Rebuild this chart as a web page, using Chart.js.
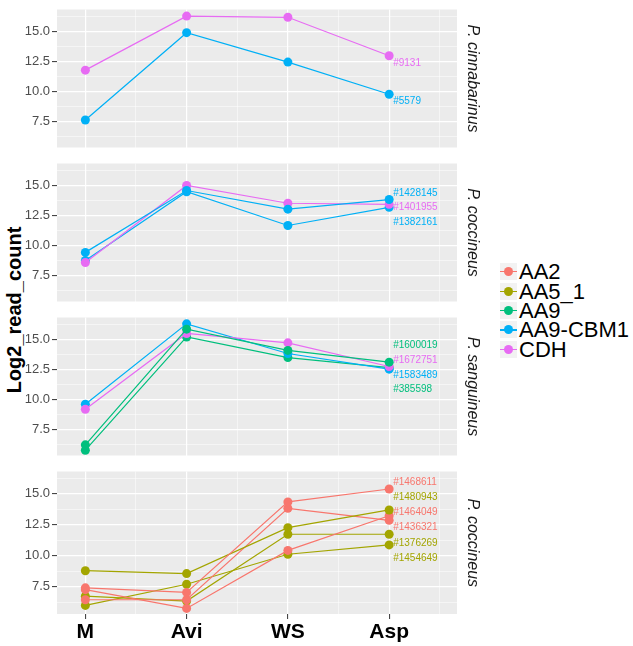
<!DOCTYPE html>
<html>
<head>
<meta charset="utf-8">
<script src="https://cdn.jsdelivr.net/npm/chart.js@4.4.1/dist/chart.umd.min.js"></script>
<style>
  body { margin: 0; width: 633px; height: 646px; background: #fff; position: relative; overflow: hidden;
         font-family: Arial, "Liberation Sans", sans-serif; }
  .panel { position: absolute; left: 0; }
  #ytitle { position: absolute; left: 14px; top: 310px; transform: translate(-50%, -50%) rotate(-90deg);
            font-weight: bold; font-size: 20px; color: #000; white-space: nowrap; }
  #legend { position: absolute; left: 500px; top: 262px; }
  .row { height: 19.4px; display: flex; align-items: center; position: relative; }
  .key { width: 17px; height: 17px; background: #F2F2F2; position: relative; margin-right: 2px; }
  .key .ln { position: absolute; left: 0; right: 0; top: 8px; height: 1.2px; }
  .key .dot { position: absolute; left: 4px; top: 4px; width: 9px; height: 9px; border-radius: 50%; }
  .lbl { font-size: 22px; color: #000; line-height: 19px; }
</style>
</head>
<body>
<div id="ytitle">Log2_read_count</div>
<div class="panel" style="top:5px"><canvas id="p0" width="490" height="147"></canvas></div>
<div class="panel" style="top:159px"><canvas id="p1" width="490" height="147"></canvas></div>
<div class="panel" style="top:313px"><canvas id="p2" width="490" height="147"></canvas></div>
<div class="panel" style="top:467px"><canvas id="p3" width="490" height="179"></canvas></div>
<div id="legend"></div>
<script>
// Categories, ticks and legend groups
const categories = ['M', 'Avi', 'WS', 'Asp'];
const xTickValues = [0, 0.5, 1, 1.5, 2, 2.5, 3, 3.5];
const yTickValues = [6.25, 7.5, 8.75, 10, 11.25, 12.5, 13.75, 15, 16.25];
const groups = ['AA2', 'AA5_1', 'AA9', 'AA9-CBM1', 'CDH'];
const groupColors = ['#F8766D', '#A3A500', '#00BF7D', '#00B0F6', '#E76BF3'];
const strips = ['P. cinnabarinus', 'P. coccineus', 'P. sanguineus', 'P. coccineus'];

// Panel 1: P. cinnabarinus
const p1Ids = ['#9131', '#5579'];
const p1Groups = ['CDH', 'AA9-CBM1'];
const p1LabelY = [12.29, 9.12];
const cin9131 = [11.75, 16.25, 16.15, 12.95];
const cin5579 = [7.6, 14.87, 12.42, 9.74];

// Panel 2: P. coccineus
const p2Ids = ['#1428145', '#1401955', '#1382161'];
const p2Groups = ['AA9-CBM1', 'CDH', 'AA9-CBM1'];
const p2LabelY = [14.34, 13.17, 11.95];
const coc1428145 = [9.4, 14.55, 13.0, 13.8];
const coc1401955 = [8.56, 14.97, 13.49, 13.4];
const coc1382161 = [8.72, 14.45, 11.64, 13.15];

// Panel 3: P. sanguineus
const p3Ids = ['#1600019', '#1672751', '#1583489', '#385598'];
const p3Groups = ['AA9', 'CDH', 'AA9-CBM1', 'AA9'];
const p3LabelY = [14.45, 13.25, 12.03, 10.8];
const san1600019 = [6.2, 15.83, 14.06, 13.08];
const san1672751 = [9.16, 15.47, 14.69, 12.72];
const san1583489 = [9.58, 16.27, 13.8, 12.5];
const san385598 = [5.75, 15.18, 13.46, 12.62];

// Panel 4: P. coccineus
const p4Ids = ['#1468611', '#1480943', '#1464049', '#1436321', '#1376269', '#1454649'];
const p4Groups = ['AA2', 'AA5_1', 'AA2', 'AA2', 'AA5_1', 'AA5_1'];
const p4LabelY = [15.96, 14.69, 13.49, 12.27, 11.04, 9.79];
const coc1468611 = [7.42, 7.05, 14.35, 15.39];
const coc1480943 = [8.8, 8.57, 12.27, 13.7];
const coc1464049 = [7.27, 5.76, 10.44, 13.23];
const coc1436321 = [6.46, 6.46, 13.83, 12.86];
const coc1376269 = [6.75, 6.35, 11.74, 11.74];
const coc1454649 = [6.0, 7.71, 10.13, 10.88];

const panels = [
    { ids: p1Ids, groups: p1Groups, labelY: p1LabelY, values: [cin9131, cin5579] },
    { ids: p2Ids, groups: p2Groups, labelY: p2LabelY, values: [coc1428145, coc1401955, coc1382161] },
    { ids: p3Ids, groups: p3Groups, labelY: p3LabelY, values: [san1600019, san1672751, san1583489, san385598] },
    { ids: p4Ids, groups: p4Groups, labelY: p4LabelY,
      values: [coc1468611, coc1480943, coc1464049, coc1436321, coc1376269, coc1454649] }
];

const FONT = 'Arial, "Liberation Sans", sans-serif';
const colorOf = g => groupColors[groups.indexOf(g)];
const isMajorX = v => Number.isInteger(v);
const isMajorY = v => Math.abs(v / 2.5 - Math.round(v / 2.5)) < 1e-6;

// Grey panel, strip text and the id labels next to the Asp points
const facetPlugin = {
    id: 'facet',
    beforeDraw(chart) {
        const a = chart.chartArea, ctx = chart.ctx;
        ctx.save();
        ctx.fillStyle = '#EBEBEB';
        ctx.fillRect(a.left, a.top, a.right - a.left, a.bottom - a.top);
        ctx.restore();
    },
    afterDraw(chart) {
        const opts = chart.options.plugins.facet;
        const a = chart.chartArea, ctx = chart.ctx;
        const xs = chart.scales.x, ys = chart.scales.y;
        ctx.save();
        // strip label
        ctx.translate(a.right + 15, (a.top + a.bottom) / 2);
        ctx.rotate(Math.PI / 2);
        ctx.font = 'italic 16px ' + FONT;
        ctx.fillStyle = '#1A1A1A';
        ctx.textAlign = 'center';
        ctx.textBaseline = 'middle';
        ctx.fillText(opts.strip, 0, 0);
        ctx.restore();

        ctx.save();
        ctx.font = '10px ' + FONT;
        ctx.textAlign = 'left';
        ctx.textBaseline = 'middle';
        opts.ids.forEach((id, i) => {
            ctx.fillStyle = colorOf(opts.groups[i]);
            ctx.fillText(id, xs.getPixelForValue(3) + 4, ys.getPixelForValue(opts.labelY[i]));
        });
        ctx.restore();
    }
};

function makePanel(idx) {
    const p = panels[idx];
    const last = idx === panels.length - 1;
    const datasets = p.values.map((vals, i) => ({
        label: p.ids[i],
        data: vals.map((v, j) => ({ x: j, y: v })),
        borderColor: colorOf(p.groups[i]),
        backgroundColor: colorOf(p.groups[i]),
        borderWidth: 1.2,
        pointRadius: 4.5,
        pointBorderWidth: 0,
        pointHoverRadius: 4.5,
        tension: 0
    }));

    return new Chart(document.getElementById('p' + idx), {
        type: 'line',
        data: { datasets },
        options: {
            responsive: false,
            animation: false,
            events: [],
            layout: { padding: { right: 33, top: 0, bottom: 0, left: 0 } },
            plugins: {
                legend: { display: false },
                tooltip: { enabled: false },
                facet: { strip: strips[idx], ids: p.ids, groups: p.groups, labelY: p.labelY }
            },
            scales: {
                x: {
                    type: 'linear',
                    min: -0.28,
                    max: 3.67,
                    afterBuildTicks: s => { s.ticks = xTickValues.map(v => ({ value: v })); },
                    afterFit: s => {
                        s.height = last ? 32 : 0;
                        s.paddingLeft = 0; s.paddingRight = 0;
                    },
                    border: { display: false },
                    grid: {
                        color: '#FFFFFF',
                        lineWidth: c => isMajorX(c.tick.value) ? 1.2 : 0.5,
                        drawTicks: last,
                        tickLength: 5,
                        tickWidth: 1,
                        tickColor: c => isMajorX(c.tick.value) ? '#333333' : 'rgba(0,0,0,0)'
                    },
                    ticks: {
                        display: last,
                        autoSkip: false,
                        maxRotation: 0,
                        padding: 1,
                        color: '#000000',
                        font: { family: FONT, size: 21, weight: 'bold' },
                        callback: v => isMajorX(v) ? categories[v] : ''
                    }
                },
                y: {
                    min: 5.31,
                    max: 16.8,
                    afterBuildTicks: s => { s.ticks = yTickValues.map(v => ({ value: v })); },
                    afterFit: s => {
                        s.width = 57;
                        s.paddingTop = 0; s.paddingBottom = 0;
                    },
                    border: { display: false },
                    grid: {
                        color: '#FFFFFF',
                        lineWidth: c => isMajorY(c.tick.value) ? 1.2 : 0.5,
                        tickLength: 5,
                        tickWidth: 1,
                        tickColor: c => isMajorY(c.tick.value) ? '#333333' : 'rgba(0,0,0,0)'
                    },
                    ticks: {
                        autoSkip: false,
                        padding: 2,
                        color: '#4D4D4D',
                        font: { family: FONT, size: 13 },
                        callback: v => isMajorY(v) ? v.toFixed(1) : ''
                    }
                }
            }
        },
        plugins: [facetPlugin]
    });
}

panels.forEach((p, i) => makePanel(i));

// Legend built from the group arrays
const legend = document.getElementById('legend');
groups.forEach((g, i) => {
    const row = document.createElement('div');
    row.className = 'row';
    row.innerHTML = `<div class="key"><div class="ln" style="background:${groupColors[i]}"></div>` +
        `<div class="dot" style="background:${groupColors[i]}"></div></div><span class="lbl">${g}</span>`;
    legend.appendChild(row);
});
</script>
</body>
</html>
